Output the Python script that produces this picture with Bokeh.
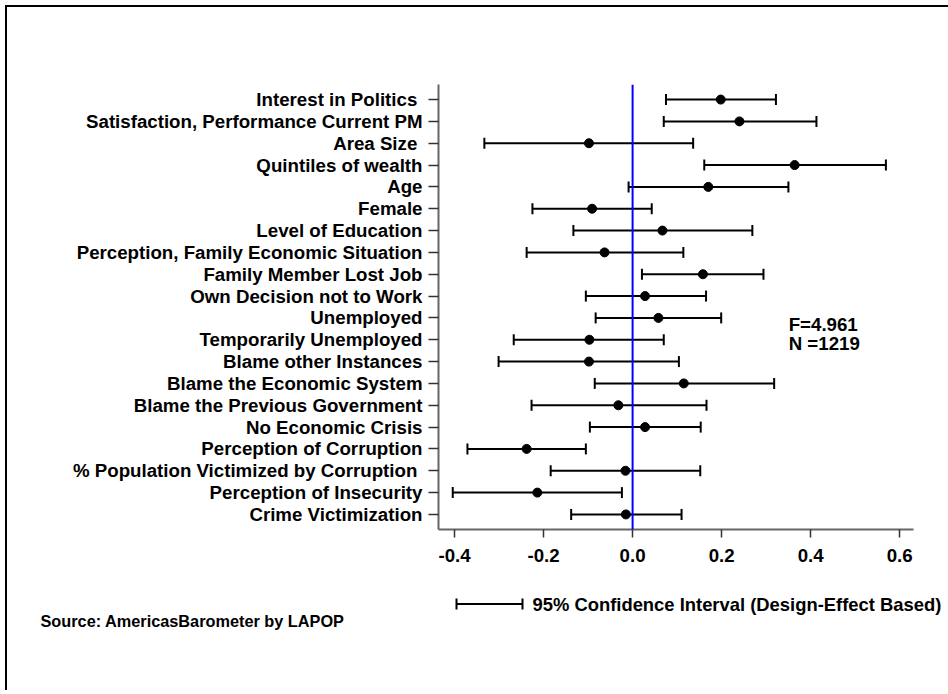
from bokeh.plotting import figure
from bokeh.layouts import column
from bokeh.models import (Range1d, FixedTicker, Whisker, TeeHead, Span, Label,
                          Arrow, ColumnDataSource, PrintfTickFormatter)
from bokeh.embed import file_html
from bokeh.resources import INLINE

variables = ["Interest in Politics ", "Satisfaction, Performance Current PM", "Area Size ",
             "Quintiles of wealth", "Age", "Female", "Level of Education",
             "Perception, Family Economic Situation", "Family Member Lost Job",
             "Own Decision not to Work", "Unemployed", "Temporarily Unemployed",
             "Blame other Instances", "Blame the Economic System",
             "Blame the Previous Government", "No Economic Crisis",
             "Perception of Corruption", "% Population Victimized by Corruption ",
             "Perception of Insecurity", "Crime Victimization"]
coef = [0.198, 0.240, -0.098, 0.364, 0.170, -0.091, 0.067, -0.063, 0.158, 0.028,
        0.058, -0.097, -0.098, 0.115, -0.032, 0.028, -0.238, -0.016, -0.214, -0.015]
lower = [0.075, 0.070, -0.333, 0.161, -0.009, -0.225, -0.133, -0.238, 0.021, -0.105,
         -0.083, -0.267, -0.301, -0.085, -0.227, -0.096, -0.371, -0.184, -0.404, -0.138]
upper = [0.322, 0.413, 0.136, 0.569, 0.350, 0.043, 0.269, 0.114, 0.294, 0.165,
         0.199, 0.070, 0.104, 0.318, 0.166, 0.153, -0.105, 0.152, -0.024, 0.110]
x_ticks = [-0.4, -0.2, 0.0, 0.2, 0.4, 0.6]
f_text = "F=4.961"
n_text = "N =1219"
legend_text = "95% Confidence Interval (Design-Effect Based)"
source_text = "Source: AmericasBarometer by LAPOP"

rows = list(range(1, len(variables) + 1))
src = ColumnDataSource(dict(row=rows, coef=coef, lower=lower, upper=upper))

FONT = "Liberation Sans"
FS = "18.7px"

# ---------------- main chart ----------------
p = figure(width=941, height=573, output_backend="svg", toolbar_location=None,
           x_range=Range1d(-0.436, 0.631), y_range=Range1d(20.69, 0.31),
           min_border_left=431, min_border_right=35, min_border_top=77,
           min_border_bottom=51, frame_align=False)
p.outline_line_color = None
p.grid.grid_line_color = None

for ax in (p.xaxis[0], p.yaxis[0]):
    ax.axis_line_color = "#666666"
    ax.axis_line_width = 2
    ax.major_tick_line_color = "#333333"
    ax.major_tick_line_width = 1.5
    ax.major_tick_in = 0
    ax.minor_tick_line_color = None
    ax.major_label_text_font = FONT
    ax.major_label_text_font_style = "bold"
    ax.major_label_text_color = "black"
    ax.major_label_text_font_size = FS

p.xaxis.ticker = FixedTicker(ticks=x_ticks)
p.xaxis.formatter = PrintfTickFormatter(format="%.1f")
p.xaxis.major_tick_out = 8
p.xaxis.major_label_standoff = 11

p.yaxis.ticker = FixedTicker(ticks=rows)
p.yaxis.major_label_overrides = {r: v for r, v in zip(rows, variables)}
p.yaxis.major_tick_out = 10
p.yaxis.major_label_standoff = 6

# zero reference line
p.add_layout(Span(location=0, dimension="height", line_color="#0000FF", line_width=2))

# confidence intervals and point estimates
p.add_layout(Whisker(source=src, base="row", lower="lower", upper="upper",
                     dimension="width", line_color="black", line_width=2,
                     lower_head=TeeHead(size=11, line_width=2, line_color="black"),
                     upper_head=TeeHead(size=11, line_width=2, line_color="black")))
p.scatter("coef", "row", source=src, size=9, color="black")

# model statistics
for txt, yy in ((f_text, 11.29), (n_text, 12.15)):
    p.add_layout(Label(x=0.3506, y=yy, text=txt, text_font=FONT, text_font_style="bold",
                       text_font_size=FS, text_baseline="middle", text_align="left",
                       text_color="black"))

# ---------------- legend / source strip ----------------
W2, H2 = 941, 110
q = figure(width=W2, height=H2, output_backend="svg", toolbar_location=None,
           x_range=Range1d(0, W2), y_range=Range1d(H2, 0),
           min_border=0, x_axis_location=None, y_axis_location=None,
           frame_align=False)
q.outline_line_color = None
q.grid.grid_line_color = None

q.add_layout(Arrow(x_start=449, y_start=23.6, x_end=515, y_end=23.6,
                   line_color="black", line_width=2,
                   start=TeeHead(size=11, line_width=2, line_color="black"),
                   end=TeeHead(size=11, line_width=2, line_color="black")))
q.add_layout(Label(x=525, y=23.6, text=legend_text, text_font=FONT,
                   text_font_style="bold", text_font_size="18.4px",
                   text_baseline="middle", text_align="left", text_color="black"))
q.add_layout(Label(x=33, y=40.5, text=source_text, text_font=FONT,
                   text_font_style="bold", text_font_size="16.3px",
                   text_baseline="middle", text_align="left", text_color="black"))

layout = column(p, q, spacing=0,
                styles={"margin-top": "5px", "margin-left": "5px",
                        "border-top": "2px solid black", "border-left": "2px solid black"})

open("out.html", "w").write(file_html(layout, INLINE))
